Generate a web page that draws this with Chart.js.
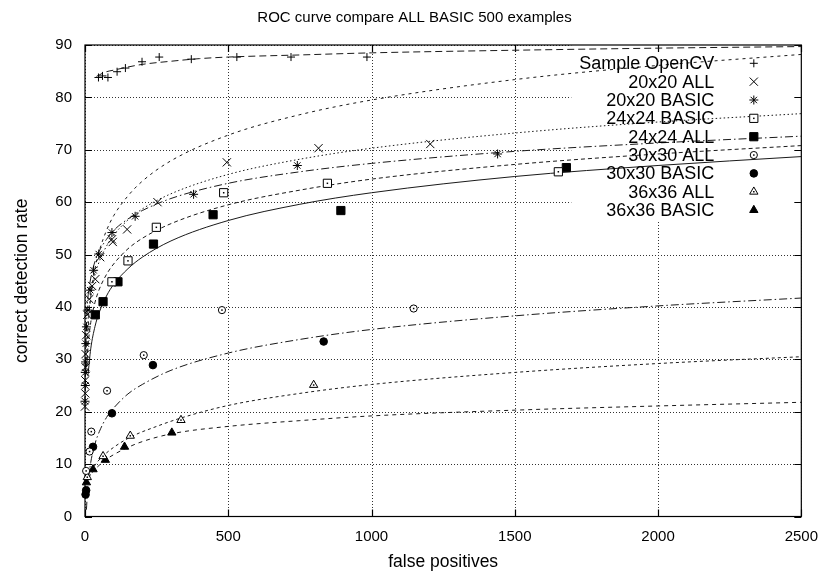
<!DOCTYPE html>
<html>
<head>
<meta charset="utf-8">
<script src="https://cdn.jsdelivr.net/npm/chart.js@4.4.1/dist/chart.umd.min.js"></script>
<style>
  html, body { margin: 0; padding: 0; background: #fff; }
  #wrap { width: 829px; height: 577px; }
</style>
</head>
<body>
<div id="wrap"><canvas id="roc" width="829" height="577"></canvas></div>
<script>
(() => {
  const titleText = "ROC curve compare ALL BASIC 500 examples";
  const xTitle = "false positives";
  const yTitle = "correct detection rate";

  const xTickValues = [0, 500, 1000, 1500, 2000, 2500];
  const yTickValues = [0, 10, 20, 30, 40, 50, 60, 70, 80, 90];

  // measured points
  const opencvX = [47, 61, 80, 112, 141, 199, 259, 371, 530, 719, 984];
  const opencvY = [83.8, 84.1, 83.8, 84.9, 85.6, 86.8, 87.7, 87.3, 87.7, 87.7, 87.7];
  const all20X = [0, 1, 1, 2, 2, 4, 8, 15, 25, 36, 53, 94, 97, 147, 253, 495, 815, 1205];
  const all20Y = [21.0, 23.5, 26.0, 28.5, 31.0, 34.6, 38.5, 41.5, 44.0, 45.3, 49.5, 52.9, 52.4, 54.8, 60.0, 67.6, 70.3, 71.1];
  const basic20X = [0, 1, 1, 2, 3, 5, 10, 18, 30, 48, 94, 175, 379, 741, 1440];
  const basic20Y = [22.0, 25.0, 27.5, 29.5, 33.0, 36.2, 39.4, 43.2, 47.0, 50.1, 54.2, 57.3, 61.5, 67.0, 69.2];
  const basic24X = [94, 150, 249, 484, 846, 1652];
  const basic24Y = [44.8, 48.8, 55.2, 61.8, 63.6, 65.8];
  const all24X = [36, 63, 115, 239, 447, 893, 1680];
  const all24Y = [38.5, 41.0, 44.8, 52.0, 57.6, 58.4, 66.6];
  const all30X = [4, 16, 22, 77, 205, 478, 1147];
  const all30Y = [8.7, 12.4, 16.2, 24.0, 30.8, 39.4, 39.7];
  const basic30X = [2, 4, 28, 94, 237, 833];
  const basic30Y = [4.2, 5.0, 13.3, 19.7, 28.9, 33.4];
  const all36X = [8, 63, 158, 335, 798];
  const all36Y = [7.5, 11.5, 15.4, 18.4, 25.1];
  const basic36X = [5, 28, 71, 138, 303];
  const basic36Y = [6.5, 9.0, 10.8, 13.3, 16.0];

  // fitted curves
  const fitOpencvX = [40, 50, 75, 100, 150, 200, 300, 400, 500, 750, 1000, 1500, 2000, 2500];
  const fitOpencvY = [84.0, 84.3, 84.9, 85.2, 85.8, 86.3, 86.9, 87.4, 87.7, 88.1, 88.5, 89.0, 89.4, 89.7];
  const fitSteepX = [5, 10, 20, 35, 50, 75, 100, 150, 200, 300, 500, 750, 1000, 1500, 2000, 2500];
  const fitSteepY = [28.6, 35.2, 41.9, 47.3, 50.7, 54.6, 57.4, 61.2, 64.0, 67.9, 72.8, 76.7, 79.5, 83.4, 86.1, 88.2];
  const fitAll20X = [2, 5, 10, 20, 35, 50, 75, 100, 150, 200, 300, 500, 750, 1000, 1500, 2000, 2500];
  const fitAll20Y = [25.5, 32.1, 37.1, 42.1, 46.2, 48.7, 51.6, 53.7, 56.6, 58.7, 61.6, 65.3, 68.2, 70.3, 73.2, 75.3, 76.9];
  const fitBasic20X = [2, 5, 10, 20, 35, 50, 75, 100, 150, 200, 300, 500, 750, 1000, 1500, 2000, 2500];
  const fitBasic20Y = [32.6, 37.8, 41.7, 45.5, 48.7, 50.7, 52.9, 54.6, 56.8, 58.4, 60.7, 63.6, 65.8, 67.4, 69.7, 71.3, 72.6];
  const fitBasic24X = [5, 10, 20, 35, 50, 75, 100, 150, 200, 300, 500, 750, 1000, 1500, 2000, 2500];
  const fitBasic24Y = [27.3, 32.1, 37.0, 40.9, 43.4, 46.2, 48.2, 51.1, 53.1, 55.9, 59.5, 62.3, 64.4, 67.2, 69.2, 70.8];
  const fitAll24X = [10, 20, 35, 50, 75, 100, 150, 200, 300, 500, 750, 1000, 1500, 2000, 2500];
  const fitAll24Y = [26.8, 32.0, 36.3, 39.0, 42.1, 44.3, 47.3, 49.5, 52.6, 56.5, 59.6, 61.8, 64.9, 67.0, 68.7];
  const fitBasic30X = [5, 10, 20, 35, 50, 75, 100, 150, 200, 300, 500, 750, 1000, 1500, 2000, 2500];
  const fitBasic30Y = [1.3, 5.8, 10.3, 13.9, 16.2, 18.9, 20.7, 23.4, 25.2, 27.9, 31.2, 33.8, 35.7, 38.3, 40.2, 41.7];
  const fitAll36X = [15, 25, 40, 60, 100, 160, 250, 335, 500, 750, 1000, 1500, 2000, 2500];
  const fitAll36Y = [7.5, 8.9, 10.2, 11.4, 13.2, 15.2, 17.2, 18.8, 21.2, 23.5, 25.2, 27.5, 29.2, 30.5];
  const fitBasic36X = [10, 20, 35, 50, 71, 100, 138, 200, 303, 500, 750, 1000, 1500, 2000, 2500];
  const fitBasic36Y = [7.0, 8.0, 9.0, 9.8, 10.8, 11.8, 12.9, 14.3, 15.8, 17.2, 18.3, 19.2, 20.3, 21.1, 21.8];

  const FONT = "'Liberation Sans', Arial, Helvetica, sans-serif";
  const toXY = (xs, ys) => xs.map((v, i) => ({ x: v, y: ys[i] }));

  const pointSeries = [
    { label: "Sample OpenCV", xs: opencvX, ys: opencvY, style: "cross", r: 4, open: false, filled: false },
    { label: "20x20 ALL", xs: all20X, ys: all20Y, style: "crossRot", r: 5.8, open: false, filled: false },
    { label: "20x20 BASIC", xs: basic20X, ys: basic20Y, style: "star", r: 4.5, open: false, filled: false },
    { label: "24x24 BASIC", xs: basic24X, ys: basic24Y, style: "rect", r: 5.8, open: true, filled: false },
    { label: "24x24 ALL", xs: all24X, ys: all24Y, style: "rect", r: 5.8, open: false, filled: true },
    { label: "30x30 ALL", xs: all30X, ys: all30Y, style: "circle", r: 3.6, open: true, filled: false },
    { label: "30x30 BASIC", xs: basic30X, ys: basic30Y, style: "circle", r: 3.8, open: false, filled: true },
    { label: "36x36 ALL", xs: all36X, ys: all36Y, style: "triangle", r: 4.8, open: true, filled: false },
    { label: "36x36 BASIC", xs: basic36X, ys: basic36Y, style: "triangle", r: 4.8, open: false, filled: true },
  ];

  const fitCurves = [
    { xs: fitOpencvX, ys: fitOpencvY, dash: [7, 4] },
    { xs: fitSteepX, ys: fitSteepY, dash: [3, 4] },
    { xs: fitAll20X, ys: fitAll20Y, dash: [1.5, 2.5] },
    { xs: fitBasic20X, ys: fitBasic20Y, dash: [8, 3, 1.5, 3] },
    { xs: fitBasic24X, ys: fitBasic24Y, dash: [4, 3] },
    { xs: fitAll24X, ys: fitAll24Y, dash: [] },
    { xs: fitBasic30X, ys: fitBasic30Y, dash: [8, 3, 1.5, 3] },
    { xs: fitAll36X, ys: fitAll36Y, dash: [3, 3] },
    { xs: fitBasic36X, ys: fitBasic36Y, dash: [4, 4] },
  ];

  const datasets = [
    ...pointSeries.map((s) => ({
      label: s.label,
      data: toXY(s.xs, s.ys),
      showLine: false,
      order: 0,
      clip: false,
      pointStyle: s.style,
      pointRadius: s.r,
      pointBorderWidth: 1,
      pointBorderColor: "#000",
      pointBackgroundColor: s.filled ? "#000" : "#fff",
    })),
    ...fitCurves.map((c, i) => ({
      label: "fit " + i,
      data: toXY(c.xs, c.ys),
      showLine: true,
      order: 1,
      pointRadius: 0,
      borderColor: "#1a1a1a",
      borderWidth: 1,
      borderDash: c.dash,
      cubicInterpolationMode: "monotone",
      fill: false,
    })),
  ];

  const drawSymbol = (ctx, s, x, y) => {
    ctx.save();
    ctx.strokeStyle = "#000";
    ctx.fillStyle = s.filled ? "#000" : "#fff";
    ctx.lineWidth = 1;
    Chart.helpers.drawPoint(ctx, { pointStyle: s.style, radius: s.r, rotation: 0, borderWidth: 1 }, x, y);
    if (s.open) {
      ctx.fillStyle = "#000";
      ctx.fillRect(x - 0.75, y - 0.75, 1.5, 1.5);
    }
    ctx.restore();
  };

  const framePlugin = {
    id: "frame",
    beforeDatasetsDraw(chart) {
      const { ctx, chartArea: a, scales } = chart;
      const xs = scales.x;
      const ys = scales.y;
      // grid is blanked under the key
      const keyLeft = a.right - 230;
      const keyBottom = a.top + 175;
      ctx.save();
      ctx.beginPath();
      ctx.rect(a.left, a.top, a.width, a.height);
      ctx.rect(a.right, a.top, -(a.right - keyLeft), keyBottom - a.top);
      ctx.clip("evenodd");
      ctx.strokeStyle = "#333";
      ctx.lineWidth = 1;
      ctx.setLineDash([1, 2]);
      xTickValues.forEach((v) => {
        const px = Math.round(xs.getPixelForValue(v)) + 0.5;
        ctx.beginPath();
        ctx.moveTo(px, a.top);
        ctx.lineTo(px, a.bottom);
        ctx.stroke();
      });
      yTickValues.forEach((v) => {
        const py = Math.round(ys.getPixelForValue(v)) + 0.5;
        ctx.beginPath();
        ctx.moveTo(a.left, py);
        ctx.lineTo(a.right, py);
        ctx.stroke();
      });
      ctx.restore();

      ctx.save();
      ctx.strokeStyle = "#000";
      ctx.lineWidth = 1.2;
      ctx.setLineDash([]);
      ctx.strokeRect(a.left, a.top, a.width, a.height);
      const tl = 7;
      ctx.beginPath();
      xTickValues.forEach((v) => {
        const px = Math.round(xs.getPixelForValue(v)) + 0.5;
        ctx.moveTo(px, a.bottom);
        ctx.lineTo(px, a.bottom - tl);
        ctx.moveTo(px, a.top);
        ctx.lineTo(px, a.top + tl);
      });
      yTickValues.forEach((v) => {
        const py = Math.round(ys.getPixelForValue(v)) + 0.5;
        ctx.moveTo(a.left, py);
        ctx.lineTo(a.left + tl, py);
        ctx.moveTo(a.right, py);
        ctx.lineTo(a.right - tl, py);
      });
      ctx.stroke();
      ctx.restore();
    },
    afterDatasetsDraw(chart) {
      const { ctx, chartArea: a, width } = chart;
      // centre dots of the open symbols
      ctx.save();
      ctx.fillStyle = "#000";
      pointSeries.forEach((s, i) => {
        if (!s.open) return;
        chart.getDatasetMeta(i).data.forEach((pt) => {
          ctx.fillRect(pt.x - 0.75, pt.y - 0.75, 1.5, 1.5);
        });
      });
      ctx.restore();

      // key
      ctx.save();
      ctx.font = "18px " + FONT;
      ctx.fillStyle = "#000";
      ctx.textAlign = "right";
      ctx.textBaseline = "middle";
      const textRight = a.right - 87;
      const symX = a.right - 47.5;
      pointSeries.forEach((s, i) => {
        const ry = a.top + 18.3 + i * 18.35;
        ctx.fillText(s.label, textRight, ry + 1);
        drawSymbol(ctx, s, symX, ry);
      });
      ctx.restore();

      // title and axis titles
      ctx.save();
      ctx.fillStyle = "#000";
      ctx.textAlign = "center";
      ctx.textBaseline = "middle";
      ctx.font = "15px " + FONT;
      ctx.fillText(titleText, width / 2, 18);
      ctx.font = "17.5px " + FONT;
      ctx.fillText(xTitle, (a.left + a.right) / 2, 562);
      ctx.translate(22, (a.top + a.bottom) / 2);
      ctx.rotate(-Math.PI / 2);
      ctx.fillText(yTitle, 0, 0);
      ctx.restore();
    },
  };

  const tickFont = { family: FONT, size: 15 };

  new Chart(document.getElementById("roc"), {
    type: "scatter",
    data: { datasets },
    options: {
      responsive: false,
      animation: false,
      devicePixelRatio: 1,
      layout: { padding: { left: 0, right: 27, top: 45, bottom: 0 } },
      plugins: {
        legend: { display: false },
        tooltip: { enabled: false },
        title: { display: false },
      },
      scales: {
        x: {
          type: "linear",
          min: 0,
          max: 2500,
          afterBuildTicks: (s) => {
            s.ticks = xTickValues.map((v) => ({ value: v }));
          },
          afterFit: (s) => {
            s.height = 60.5;
          },
          grid: { display: false, drawTicks: false },
          border: { display: false },
          ticks: { color: "#000", font: tickFont, padding: 11, maxRotation: 0, callback: (v) => String(v) },
        },
        y: {
          type: "linear",
          min: 0,
          max: 90,
          afterBuildTicks: (s) => {
            s.ticks = yTickValues.map((v) => ({ value: v }));
          },
          afterFit: (s) => {
            s.width = 85;
          },
          grid: { display: false, drawTicks: false },
          border: { display: false },
          ticks: { color: "#000", font: tickFont, padding: 13, callback: (v) => String(v) },
        },
      },
    },
    plugins: [framePlugin],
  });
})();
</script>
</body>
</html>
